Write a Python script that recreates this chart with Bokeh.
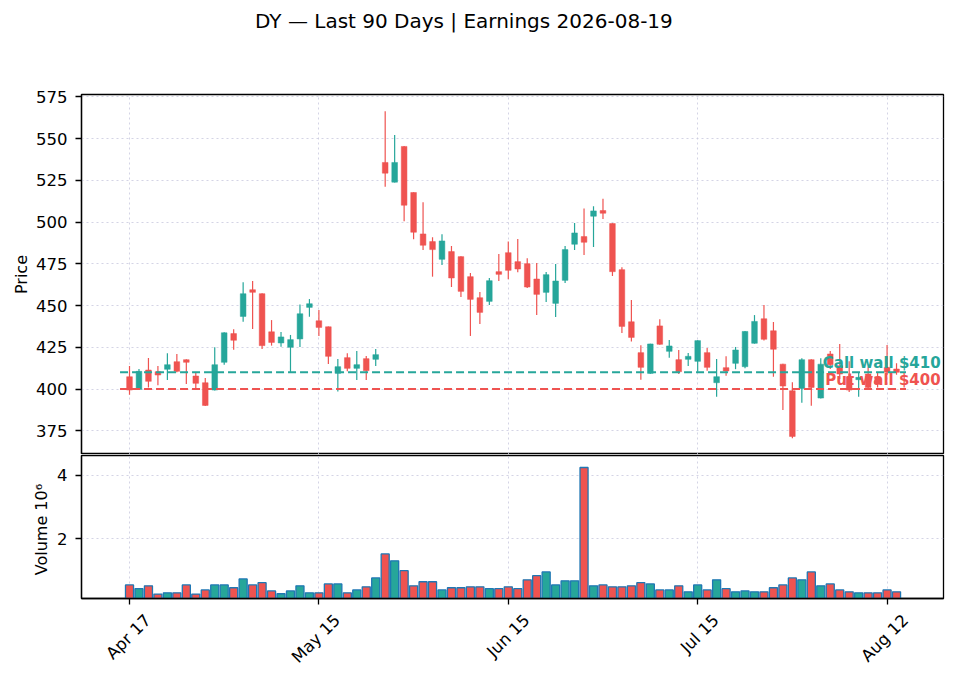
from math import pi
from bokeh.plotting import figure
from bokeh.models import FixedTicker, Label, Range1d, LinearAxis
from bokeh.core.properties import value
from bokeh.layouts import column
from bokeh.embed import file_html
from bokeh.resources import INLINE

# ---------------- data ----------------
title_text = "DY \u2014 Last 90 Days | Earnings 2026-08-19"
tick_pos = [0, 20, 40, 60, 80]
tick_labels = ["Apr 17", "May 15", "Jun 15", "Jul 15", "Aug 12"]
price_ticks = [375, 400, 425, 450, 475, 500, 525, 550, 575]
volume_ticks = [2, 4]
call_wall = 410
put_wall = 400

opens = [407.4, 399.8, 411.4, 410.4, 411.8, 416.4, 417.6, 407.8, 403.8, 399.4,
         416.0, 433.2, 443.5, 459.5, 457.1, 434.3, 427.6, 425.0, 430.0, 448.9,
         440.9, 437.3, 409.4, 418.8, 412.4, 418.2, 417.8, 535.7, 523.9, 545.3,
         517.7, 492.9, 488.3, 477.7, 482.3, 479.3, 467.3, 454.7, 452.5, 470.3,
         481.7, 476.3, 475.1, 465.9, 457.9, 451.3, 465.1, 486.7, 491.3, 503.5,
         506.9, 499.1, 471.5, 440.3, 421.8, 409.4, 437.8, 422.6, 417.6, 417.8,
         416.6, 421.8, 403.8, 412.8, 415.4, 413.4, 427.4, 442.1, 434.9, 414.9,
         399.0, 400.4, 417.6, 394.6, 421.0, 414.0, 407.4, 405.6, 409.0, 407.0,
         413.0, 412.0]
highs = [413.8, 412.0, 418.6, 413.8, 421.4, 421.0, 417.8, 409.8, 406.6, 425.0,
         434.0, 435.8, 463.9, 464.7, 457.3, 441.3, 434.1, 432.4, 450.7, 453.9,
         447.3, 437.5, 418.0, 421.4, 422.8, 419.8, 424.0, 566.4, 552.2, 545.5,
         517.9, 511.8, 490.9, 492.7, 485.7, 479.5, 469.5, 458.1, 466.5, 480.9,
         488.3, 489.9, 478.3, 475.5, 470.1, 474.9, 485.7, 499.5, 508.1, 509.5,
         513.9, 499.3, 472.9, 453.3, 426.2, 427.2, 441.8, 429.4, 423.4, 421.6,
         429.2, 424.6, 418.0, 419.6, 425.2, 434.7, 444.3, 450.3, 440.1, 415.1,
         404.0, 418.4, 417.8, 418.4, 422.8, 427.0, 416.6, 410.0, 413.0, 410.0,
         426.4, 415.4]
lows = [396.6, 399.4, 401.0, 402.2, 405.4, 410.0, 403.0, 400.6, 389.8, 399.2,
        414.6, 423.6, 440.3, 435.9, 424.0, 426.0, 425.4, 410.0, 425.2, 443.3,
        431.8, 415.0, 398.6, 410.6, 405.4, 405.4, 413.8, 521.1, 523.7, 500.5,
        489.7, 483.3, 467.3, 474.3, 461.1, 455.1, 431.8, 438.9, 450.3, 464.7,
        465.7, 469.9, 460.5, 444.3, 452.1, 443.1, 463.5, 483.3, 480.3, 485.1,
        501.9, 467.7, 433.5, 428.5, 405.6, 409.2, 426.6, 418.8, 409.0, 413.8,
        410.4, 411.0, 395.4, 408.0, 411.9, 412.4, 427.2, 429.0, 407.4, 387.4,
        370.6, 391.8, 390.0, 394.4, 412.0, 406.0, 398.2, 395.4, 400.0, 401.0,
        408.6, 408.6]
closes = [399.4, 410.6, 404.6, 408.4, 414.6, 410.6, 416.0, 403.4, 390.2, 414.6,
          433.7, 429.2, 457.1, 457.9, 426.0, 427.9, 431.2, 429.6, 445.1, 451.1,
          436.9, 419.6, 413.4, 412.4, 414.6, 411.0, 420.6, 529.3, 535.7, 510.1,
          493.9, 486.1, 483.5, 488.7, 466.5, 458.5, 453.7, 445.9, 464.9, 468.7,
          471.1, 471.9, 461.1, 456.7, 468.5, 464.7, 483.5, 493.5, 487.9, 506.7,
          505.3, 470.3, 437.5, 430.9, 413.0, 427.0, 426.8, 425.8, 410.4, 419.6,
          429.0, 413.0, 407.4, 410.8, 423.4, 434.5, 440.5, 429.8, 423.8, 401.8,
          371.6, 417.6, 401.0, 414.9, 414.6, 409.0, 399.4, 407.0, 401.0, 403.0,
          410.0, 410.0]
volumes_m = [0.54, 0.42, 0.51, 0.25, 0.29, 0.29, 0.54, 0.25, 0.38, 0.54,
             0.54, 0.45, 0.73, 0.54, 0.61, 0.35, 0.26, 0.35, 0.51, 0.29,
             0.29, 0.57, 0.57, 0.29, 0.38, 0.48, 0.76, 1.52, 1.30, 0.99,
             0.51, 0.64, 0.64, 0.38, 0.45, 0.45, 0.48, 0.48, 0.42, 0.42,
             0.48, 0.42, 0.70, 0.83, 0.95, 0.54, 0.67, 0.67, 4.25, 0.51,
             0.54, 0.48, 0.48, 0.51, 0.61, 0.57, 0.38, 0.38, 0.51, 0.32,
             0.54, 0.38, 0.70, 0.42, 0.32, 0.35, 0.32, 0.32, 0.45, 0.54,
             0.76, 0.70, 0.95, 0.51, 0.57, 0.38, 0.32, 0.29, 0.29, 0.29,
             0.38, 0.32]

# ---------------- style ----------------
GREEN = "#26a69a"
RED = "#ef5350"
FONT = "DejaVu Sans"
GRID_COLOR = "#c9c9de"

x = list(range(len(opens)))
colors = [GREEN if c >= o else RED for o, c in zip(opens, closes)]
body_top = [max(o, c) for o, c in zip(opens, closes)]
body_bot = [min(o, c) for o, c in zip(opens, closes)]

XMIN, XMAX = -5.07, 85.96
x_range = Range1d(XMIN, XMAX)
FW = 862          # frame width
LEFT = 81
RIGHT = 4
W = LEFT + FW + RIGHT


def style_common(f):
    f.outline_line_color = "black"
    f.outline_line_width = 1.3
    f.outline_line_alpha = 1
    f.background_fill_color = "white"
    f.border_fill_color = "white"
    for ax in f.axis:
        ax.axis_line_color = "black"
        ax.axis_line_width = 1.3
        ax.major_tick_line_color = "black"
        ax.major_tick_line_width = 1.3
        ax.major_tick_out = 6
        ax.major_tick_in = 0
        ax.minor_tick_line_color = None
        ax.major_label_text_font = FONT
        ax.major_label_text_font_size = "16.5px"
        ax.major_label_text_color = "black"
        ax.axis_label_text_font = FONT
        ax.axis_label_text_font_size = "16px"
        ax.axis_label_text_font_style = "normal"
        ax.axis_label_text_color = "black"
    for g in f.grid:
        g.grid_line_color = GRID_COLOR
        g.grid_line_dash = "2 3"
        g.grid_line_width = 1
        g.grid_line_alpha = 0.8


# ---------------- title strip ----------------
# the column aligns this strip's frame with the panels' frames, so its
# x range is expressed in page pixels over the frame's extent
TH = 60
t = figure(width=W, height=TH, x_range=Range1d(LEFT, LEFT + FW),
           y_range=Range1d(0, TH),
           x_axis_type=None, y_axis_type=None, output_backend="svg",
           toolbar_location=None, min_border=0)
t.outline_line_color = None
t.background_fill_color = "white"
t.border_fill_color = "white"
t.text(x=[254.5], y=[TH - 20.7], text=[title_text], text_align="left",
       text_baseline="alphabetic", text_color="black",
       text_font=value(FONT), text_font_size=value("20px"))

# ---------------- price panel ----------------
p = figure(frame_width=FW, frame_height=360, x_range=x_range,
           y_range=Range1d(360.8, 576.4),
           output_backend="svg", toolbar_location=None,
           min_border_left=LEFT, min_border_right=RIGHT, min_border_top=94 - TH,
           min_border_bottom=0)
style_common(p)
p.xaxis.visible = False
p.xaxis.major_label_text_color = None
p.xgrid.ticker = FixedTicker(ticks=tick_pos)
p.yaxis.ticker = FixedTicker(ticks=price_ticks)
p.ygrid.ticker = FixedTicker(ticks=price_ticks)
p.yaxis.axis_label = "Price"
p.yaxis.axis_label_standoff = 2
p.yaxis.major_label_standoff = 8

p.segment(x0=x, y0=highs, x1=x, y1=lows, line_color=colors, line_width=1.2)
p.vbar(x=x, width=0.6, top=body_top, bottom=body_bot,
       fill_color=colors, line_color=colors, line_width=0.5)

x0_wall = x[0] - 1
x1_wall = x[-1] + 1
p.segment(x0=[x0_wall], y0=[call_wall], x1=[x1_wall], y1=[call_wall],
          line_color=GREEN, line_width=2, line_dash="8 4")
p.segment(x0=[x0_wall], y0=[put_wall], x1=[x1_wall], y1=[put_wall],
          line_color=RED, line_width=2, line_dash="8 4")

label_x = XMAX - 0.3
p.add_layout(Label(x=label_x, y=call_wall, text=f"Call wall ${call_wall}",
                   text_align="right", text_baseline="bottom",
                   text_color=GREEN, text_font=FONT, text_font_size="15px",
                   text_font_style="bold"))
p.add_layout(Label(x=label_x, y=put_wall, text=f"Put wall ${put_wall}",
                   text_align="right", text_baseline="bottom",
                   text_color=RED, text_font=FONT, text_font_size="15px",
                   text_font_style="bold"))

# ---------------- volume panel ----------------
SHIFT = 1.95   # moves the rotated labels so that they are centred on the ticks
v = figure(frame_width=FW, frame_height=143, x_range=x_range,
           y_range=Range1d(0.11, 4.63),
           output_backend="svg", toolbar_location=None,
           min_border_left=LEFT, min_border_right=RIGHT, min_border_top=1,
           min_border_bottom=0)
v.extra_x_ranges = {"lab": Range1d(XMIN - SHIFT, XMAX - SHIFT)}
style_common(v)
v.xaxis.ticker = FixedTicker(ticks=tick_pos)
v.xgrid.ticker = FixedTicker(ticks=tick_pos)
v.xaxis.major_label_text_color = None
v.xaxis.major_label_standoff = 0
v.yaxis.ticker = FixedTicker(ticks=volume_ticks)
v.ygrid.ticker = FixedTicker(ticks=volume_ticks)
v.yaxis.axis_label = "Volume  10\u2076"
v.yaxis.axis_label_standoff = 3
v.yaxis.major_label_standoff = 8

lab_axis = LinearAxis(x_range_name="lab", ticker=FixedTicker(ticks=tick_pos),
                      major_label_overrides={tp: lab for tp, lab in zip(tick_pos, tick_labels)},
                      major_label_orientation=pi / 4,
                      major_tick_out=0, major_tick_in=0,
                      major_tick_line_color=None, minor_tick_line_color=None,
                      axis_line_color=None, major_label_standoff=13,
                      major_label_text_font=FONT,
                      major_label_text_font_size="16.5px",
                      major_label_text_color="black")
v.add_layout(lab_axis, "below")

v.vbar(x=x, width=0.85, top=volumes_m, bottom=0,
       fill_color=colors, line_color="#1f77b4", line_width=1.3)

layout = column(t, p, v, spacing=0)
open("out.html", "w").write(file_html(layout, INLINE))
